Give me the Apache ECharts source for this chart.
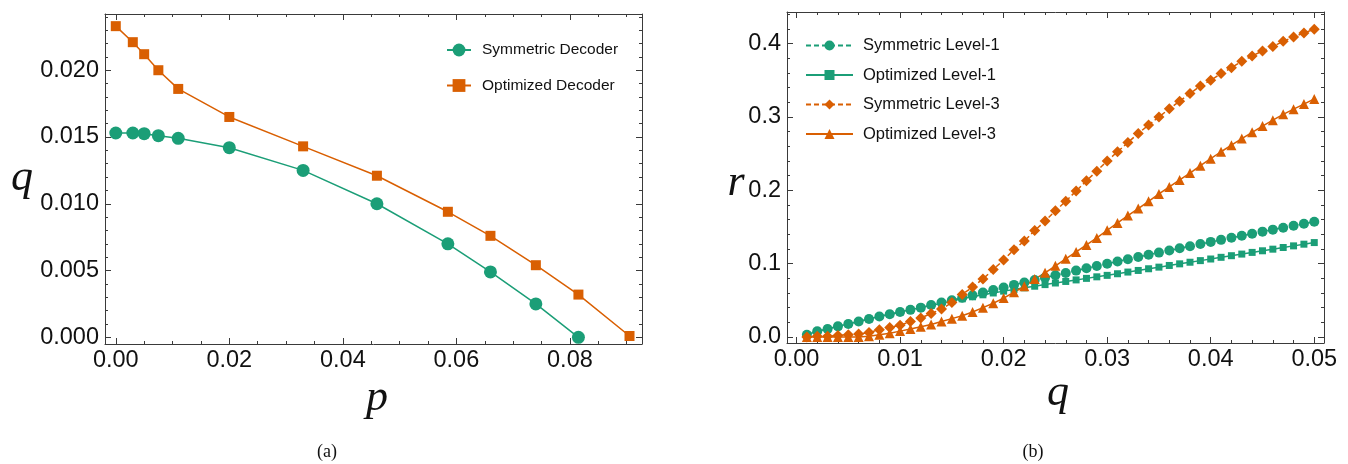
<!DOCTYPE html>
<html>
<head>
<meta charset="utf-8">
<script src="https://cdn.jsdelivr.net/npm/echarts@6/dist/echarts.min.js"></script>
<style>
  html, body { margin: 0; padding: 0; background: #fff; }
  #chart { width: 1348px; height: 464px; }
</style>
</head>
<body>
<div id="chart"></div>
<script>
// ---- panel (a): threshold q versus p ----
const pSym = [0, 0.003, 0.005, 0.0075, 0.011, 0.02, 0.033, 0.046, 0.0585, 0.066, 0.074, 0.0815];
const qSym = [0.0153, 0.0153, 0.01525, 0.0151, 0.0149, 0.0142, 0.0125, 0.0100, 0.0070, 0.0049, 0.0025, 0.0000];
const pOpt = [0, 0.003, 0.005, 0.0075, 0.011, 0.02, 0.033, 0.046, 0.0585, 0.066, 0.074, 0.0815, 0.0905];
const qOpt = [0.0233, 0.0221, 0.0212, 0.0200, 0.0186, 0.0165, 0.0143, 0.0121, 0.0094, 0.0076, 0.0054, 0.0032, 0.0001];

// ---- panel (b): rate r versus q ----
const qGrid = [
  0.001, 0.002, 0.003, 0.004, 0.005, 0.006, 0.007, 0.008, 0.009, 0.010,
  0.011, 0.012, 0.013, 0.014, 0.015, 0.016, 0.017, 0.018, 0.019, 0.020,
  0.021, 0.022, 0.023, 0.024, 0.025, 0.026, 0.027, 0.028, 0.029, 0.030,
  0.031, 0.032, 0.033, 0.034, 0.035, 0.036, 0.037, 0.038, 0.039, 0.040,
  0.041, 0.042, 0.043, 0.044, 0.045, 0.046, 0.047, 0.048, 0.049, 0.050
];
const rSymL1 = [
  0.003, 0.0077, 0.011, 0.0145, 0.0177, 0.021, 0.0245, 0.028, 0.031, 0.034,
  0.037, 0.040, 0.0435, 0.047, 0.050, 0.0535, 0.057, 0.0605, 0.064, 0.0675,
  0.071, 0.0743, 0.0776, 0.0809, 0.0841, 0.0873, 0.0905, 0.0937, 0.0968, 0.0999,
  0.103, 0.106, 0.109, 0.112, 0.115, 0.118, 0.1209, 0.1238, 0.1267, 0.1296,
  0.1324, 0.1352, 0.138, 0.1408, 0.1436, 0.1463, 0.149, 0.1517, 0.1544, 0.157
];
const rOptL1 = [
  0.003, 0.0077, 0.011, 0.0145, 0.0177, 0.021, 0.0245, 0.028, 0.031, 0.034,
  0.037, 0.040, 0.043, 0.046, 0.049, 0.052, 0.0548, 0.0575, 0.060, 0.0625,
  0.0648, 0.0670, 0.0692, 0.0714, 0.0736, 0.0757, 0.0778, 0.0799, 0.0820, 0.0840,
  0.0862, 0.0885, 0.0907, 0.0930, 0.0952, 0.0975, 0.0997, 0.1019, 0.1041, 0.1063,
  0.1086, 0.1108, 0.1130, 0.1153, 0.1175, 0.1197, 0.1220, 0.1242, 0.1265, 0.1287
];
const rSymL3 = [
  0, 0.001, 0.001, 0.002, 0.003, 0.004, 0.006, 0.010, 0.013, 0.016,
  0.021, 0.026, 0.032, 0.038, 0.047, 0.058, 0.068, 0.079, 0.092, 0.105,
  0.119, 0.131, 0.145, 0.158, 0.172, 0.185, 0.199, 0.213, 0.226, 0.240,
  0.2525, 0.265, 0.2775, 0.289, 0.300, 0.311, 0.3215, 0.332, 0.342, 0.350,
  0.359, 0.367, 0.376, 0.383, 0.390, 0.396, 0.403, 0.409, 0.4145, 0.4195
];
const rOptL3 = [
  0, 0, 0, 0, 0, 0, 0.001, 0.003, 0.005, 0.008,
  0.011, 0.014, 0.017, 0.021, 0.025, 0.029, 0.034, 0.040, 0.046, 0.053,
  0.061, 0.069, 0.079, 0.0875, 0.097, 0.1065, 0.116, 0.1255, 0.135, 0.1455,
  0.1555, 0.1655, 0.175, 0.185, 0.195, 0.2045, 0.214, 0.2235, 0.2335, 0.243,
  0.2525, 0.2615, 0.2705, 0.279, 0.2875, 0.2955, 0.3035, 0.3105, 0.3175, 0.3245
];

// ---- tick labels ----
const pTicks = [0, 0.02, 0.04, 0.06, 0.08];
const qLeftTicks = [0, 0.005, 0.010, 0.015, 0.020];
const qRightTicks = [0, 0.01, 0.02, 0.03, 0.04, 0.05];
const rTicks = [0, 0.1, 0.2, 0.3, 0.4];

const GREEN = '#1b9e77';
const ORANGE = '#d95f02';
const FRAME = '#3a3a3a';
const SANS = '"Liberation Sans", Arial, Helvetica, sans-serif';
const SERIF = '"Liberation Serif", "DejaVu Serif", serif';

// minor tick positions between the labelled ones
function minorTicks(step, upTo, majorStep) {
  const out = [];
  const n = Math.floor(upTo / step + 1e-9);
  for (let i = 1; i <= n; i++) {
    const v = +(i * step).toFixed(6);
    const k = v / majorStep;
    if (Math.abs(k - Math.round(k)) > 1e-6) out.push(v);
  }
  return out;
}

const ranges = [
  { x: [-0.0019, 0.0927], y: [-0.0005, 0.02421] },
  { x: [-0.00092, 0.05094], y: [-0.0082, 0.443] }
];
const majors = [
  { x: pTicks, y: qLeftTicks, xf: 2, yf: 3 },
  { x: qRightTicks, y: rTicks, xf: 2, yf: 1 }
];
const minors = [
  { x: minorTicks(0.005, 0.0927, 0.02), y: minorTicks(0.001, 0.0242, 0.005) },
  { x: minorTicks(0.002, 0.0509, 0.01), y: minorTicks(0.02, 0.443, 0.1) }
];

// four framed sides per panel: a labelled major axis, plus tick-only axes
const xAxes = [], yAxes = [];
for (let g = 0; g < 2; g++) {
  [['bottom', true], ['top', false]].forEach(([pos, labelled]) => {
    xAxes.push({
      type: 'value', gridIndex: g, position: pos,
      min: ranges[g].x[0], max: ranges[g].x[1],
      axisLine: { show: true, onZero: false, lineStyle: { color: FRAME, width: 1 } },
      axisTick: { show: true, inside: true, length: 6, customValues: majors[g].x, lineStyle: { color: FRAME } },
      axisLabel: {
        show: labelled, customValues: majors[g].x, margin: 5,
        fontSize: 23.5, fontFamily: SANS, color: '#111',
        formatter: v => v.toFixed(majors[g].xf)
      },
      splitLine: { show: false }
    });
    xAxes.push({
      type: 'value', gridIndex: g, position: pos,
      min: ranges[g].x[0], max: ranges[g].x[1],
      axisLine: { show: false, onZero: false },
      axisTick: { show: true, inside: true, length: 3, customValues: minors[g].x, lineStyle: { color: FRAME } },
      axisLabel: { show: false },
      splitLine: { show: false }
    });
  });
  [['left', true], ['right', false]].forEach(([pos, labelled]) => {
    yAxes.push({
      type: 'value', gridIndex: g, position: pos,
      min: ranges[g].y[0], max: ranges[g].y[1],
      axisLine: { show: true, onZero: false, lineStyle: { color: FRAME, width: 1 } },
      axisTick: { show: true, inside: true, length: 6, customValues: majors[g].y, lineStyle: { color: FRAME } },
      axisLabel: {
        show: labelled, customValues: majors[g].y, margin: 6,
        fontSize: 23.5, fontFamily: SANS, color: '#111',
        formatter: v => v.toFixed(majors[g].yf)
      },
      splitLine: { show: false }
    });
    yAxes.push({
      type: 'value', gridIndex: g, position: pos,
      min: ranges[g].y[0], max: ranges[g].y[1],
      axisLine: { show: false, onZero: false },
      axisTick: { show: true, inside: true, length: 3, customValues: minors[g].y, lineStyle: { color: FRAME } },
      axisLabel: { show: false },
      splitLine: { show: false }
    });
  });
}

const zip = (xs, ys) => xs.map((x, i) => [x, ys[i]]);

function lineSeries(name, xs, ys, axis, color, symbol, size, dashed) {
  return {
    name, type: 'line', xAxisIndex: axis, yAxisIndex: axis,
    data: zip(xs, ys),
    symbol, symbolSize: size, showAllSymbol: true,
    lineStyle: { color, width: 1.5, type: dashed ? [5, 3] : 'solid' },
    itemStyle: { color },
    emphasis: { disabled: true },
    animation: false
  };
}

const chart = echarts.init(document.getElementById('chart'), null, { renderer: 'canvas' });
chart.setOption({
  backgroundColor: '#fff',
  animation: false,
  grid: [
    { left: 105, top: 14, width: 537, height: 330, outerBoundsMode: 'none' },
    { left: 787, top: 12, width: 537, height: 331, outerBoundsMode: 'none' }
  ],
  xAxis: xAxes,
  yAxis: yAxes,
  legend: [
    {
      data: ['Symmetric Decoder', 'Optimized Decoder'],
      orient: 'vertical', left: 441, top: 37,
      itemWidth: 24, itemHeight: 16, itemGap: 19.5,
      textStyle: { fontSize: 15.5, fontFamily: SANS, color: '#111', padding: [0, 0, 0, 6] },
      selectedMode: false
    },
    {
      data: ['Symmetric Level-1', 'Optimized Level-1', 'Symmetric Level-3', 'Optimized Level-3'],
      orient: 'vertical', left: 800, top: 32,
      itemWidth: 47, itemHeight: 12.5, itemGap: 12.5,
      textStyle: { fontSize: 16.5, fontFamily: SANS, color: '#111', padding: [0, 0, 0, 5] },
      selectedMode: false
    }
  ],
  series: [
    lineSeries('Symmetric Decoder', pSym, qSym, 0, GREEN, 'circle', 13, false),
    lineSeries('Optimized Decoder', pOpt, qOpt, 0, ORANGE, 'rect', 10, false),
    lineSeries('Symmetric Level-1', qGrid, rSymL1, 4, GREEN, 'circle', 10, true),
    lineSeries('Optimized Level-1', qGrid, rOptL1, 4, GREEN, 'rect', 7, false),
    lineSeries('Symmetric Level-3', qGrid, rSymL3, 4, ORANGE, 'diamond', 11, true),
    lineSeries('Optimized Level-3', qGrid, rOptL3, 4, ORANGE, 'triangle', 10, false)
  ],
  graphic: [
    { type: 'text', x: 22, y: 178, style: { text: 'q', font: 'italic 44px ' + SERIF, fill: '#111', align: 'center', verticalAlign: 'middle' } },
    { type: 'text', x: 377, y: 398, style: { text: 'p', font: 'italic 44px ' + SERIF, fill: '#111', align: 'center', verticalAlign: 'middle' } },
    { type: 'text', x: 736, y: 183, style: { text: 'r', font: 'italic 44px ' + SERIF, fill: '#111', align: 'center', verticalAlign: 'middle' } },
    { type: 'text', x: 1058, y: 393, style: { text: 'q', font: 'italic 44px ' + SERIF, fill: '#111', align: 'center', verticalAlign: 'middle' } },
    { type: 'text', x: 327, y: 452, style: { text: '(a)', font: '18px ' + SERIF, fill: '#111', align: 'center', verticalAlign: 'middle' } },
    { type: 'text', x: 1033, y: 452, style: { text: '(b)', font: '18px ' + SERIF, fill: '#111', align: 'center', verticalAlign: 'middle' } }
  ]
});
</script>
</body>
</html>
